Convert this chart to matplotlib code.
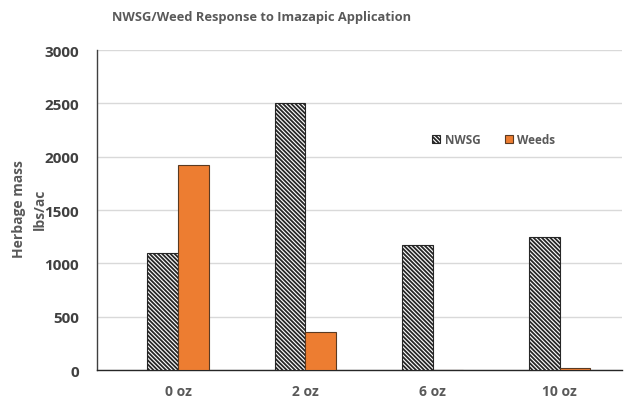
import numpy as np
import matplotlib.pyplot as plt
import matplotlib as mpl

mpl.rcParams['font.family'] = ['Open Sans', 'DejaVu Sans']
mpl.rcParams['hatch.linewidth'] = 1.3

# Herbage mass (lbs/ac) by imazapic rate
rates = ['0 oz', '2 oz', '6 oz', '10 oz']
nwsg = [1100, 2500, 1170, 1250]
weeds = [1920, 360, 0, 15]

ORANGE = '#ED7D31'
TXT = '#595959'

fig = plt.figure(figsize=(6.26, 4.06), dpi=100)
ax = fig.add_axes([0.155, 0.086, 0.839, 0.788])

x = np.arange(len(rates))
w = 0.24
ax.bar(x - w / 2, nwsg, w, color='white', edgecolor='#262626', linewidth=0.8,
       hatch='\\' * 8, label='NWSG', zorder=3)
ax.bar(x + w / 2, weeds, w, color=ORANGE, edgecolor='#5a3a22', linewidth=0.8,
       label='Weeds', zorder=3)

ax.set_ylim(0, 3000)
ax.set_xlim(-0.636, 3.49)
ax.set_yticks(range(0, 3001, 500))
ax.set_xticks(x)
ax.set_xticklabels(rates)
ax.grid(axis='y', color='#d9d9d9', linewidth=1.0, zorder=0)

for s in ['top', 'right']:
    ax.spines[s].set_visible(False)
ax.spines['left'].set_color('#404040')
ax.spines['left'].set_linewidth(1.0)
ax.spines['bottom'].set_color('#262626')
ax.spines['bottom'].set_linewidth(1.0)
ax.tick_params(length=0)
ax.tick_params(axis='y', pad=13, labelsize=11, labelcolor='#404040')
ax.tick_params(axis='x', pad=10, labelsize=10, labelcolor=TXT)
for t in ax.get_yticklabels() + ax.get_xticklabels():
    t.set_fontweight('bold')

fig.text(0.418, 0.958, 'NWSG/Weed Response to Imazapic Application',
         ha='center', va='center', fontsize=9.3, fontweight='bold', color=TXT)
fig.text(0.030, 0.485, 'Herbage mass', ha='center', va='center',
         rotation=90, fontsize=10, fontweight='bold', color=TXT)
fig.text(0.064, 0.485, 'lbs/ac', ha='center', va='center',
         rotation=90, fontsize=10, fontweight='bold', color=TXT)

leg = ax.legend(loc='center left', bbox_to_anchor=(0.638, 0.72), ncol=2,
                frameon=False, fontsize=8.5, handlelength=0.7, handleheight=0.7,
                handletextpad=0.35, columnspacing=2.1, borderaxespad=0,
                borderpad=0)
for t in leg.get_texts():
    t.set_fontweight('bold')
    t.set_color(TXT)

fig.savefig('out.png', dpi=100)
